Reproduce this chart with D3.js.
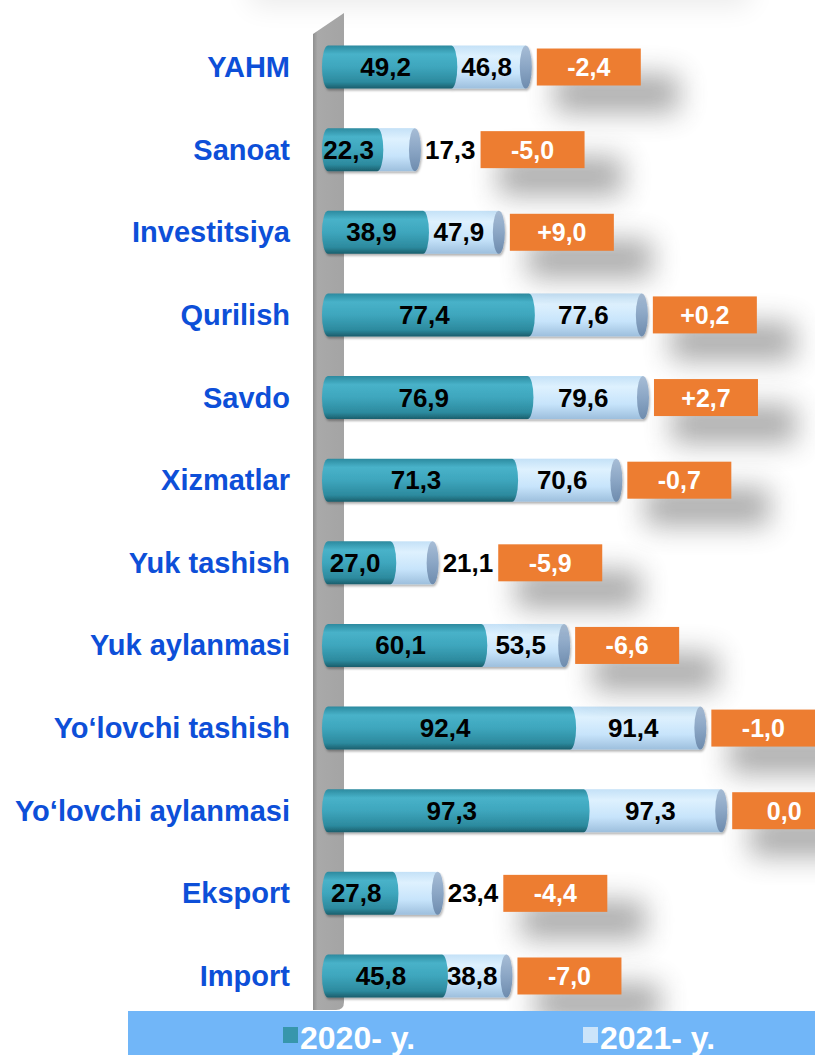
<!DOCTYPE html>
<html lang="uz">
  <head>
    <meta charset="UTF-8" />
    <title>2020-2021 ko'rsatkichlar</title>
    <script src="https://cdnjs.cloudflare.com/ajax/libs/d3/7.8.5/d3.min.js"></script>
    <style>
      html, body { margin: 0; padding: 0; background: #fff; }
      svg { display: block; }
      text { font-family: "Liberation Sans", Arial, sans-serif; font-weight: bold; }
    </style>
  </head>
  <body>
    <svg id="chart" width="815" height="1055"></svg>

    <script>
      // data
      const categories = [
        "YAHM", "Sanoat", "Investitsiya", "Qurilish", "Savdo", "Xizmatlar",
        "Yuk tashish", "Yuk aylanmasi", "Yo\u2018lovchi tashish",
        "Yo\u2018lovchi aylanmasi", "Eksport", "Import"
      ];
      const values2020 = [49.2, 22.3, 38.9, 77.4, 76.9, 71.3, 27.0, 60.1, 92.4, 97.3, 27.8, 45.8];
      const values2021 = [46.8, 17.3, 47.9, 77.6, 79.6, 70.6, 21.1, 53.5, 91.4, 97.3, 23.4, 38.8];
      const legendLabels = ["2020- y.", "2021- y."];

      const width = 815, height = 1055;
      const svg = d3.select("#chart");
      const defs = svg.append("defs");

      const fmt = v => d3.format(".1f")(Math.abs(v)).replace(".", ",");
      const fmtDiff = v => {
        const r = Math.round(v * 10) / 10;
        return (r > 0 ? "+" : r < 0 ? "-" : "") + fmt(r);
      };

      // scales
      const y = d3.scaleBand()
        .domain(categories)
        .range([25.7, 1017.3])
        .paddingInner(0.48)
        .paddingOuter(0.24);
      // 2020 segment (front), from the wall
      const x20 = d3.scaleLinear().domain([0, 100]).range([322, 597]);
      // 2021 segment length, stacked after 2020
      const x21 = d3.scaleLinear().domain([0, 100]).range([16, 141]);

      // gradients
      function vGrad(id, stops) {
        const g = defs.append("linearGradient").attr("id", id)
          .attr("x1", 0).attr("y1", 0).attr("x2", 0).attr("y2", 1);
        stops.forEach(s => g.append("stop").attr("offset", s[0]).attr("stop-color", s[1]));
      }
      vGrad("tealGrad", [[0, "#2c8a9f"], [0.2, "#48b2c9"], [0.5, "#3ea6bd"], [0.85, "#2c8a9e"], [1, "#1b5e6c"]]);
      vGrad("lightGrad", [[0, "#c4e1f7"], [0.25, "#def1fe"], [0.65, "#c7e4fb"], [1, "#9dbfdd"]]);
      vGrad("capGrad", [[0, "#a7bdd6"], [0.5, "#8ba6c5"], [1, "#6e8cae"]]);
      const wg = defs.append("linearGradient").attr("id", "wallGrad");
      wg.append("stop").attr("offset", 0).attr("stop-color", "#8f8f8f");
      wg.append("stop").attr("offset", 0.15).attr("stop-color", "#a9a9a9");
      wg.append("stop").attr("offset", 1).attr("stop-color", "#a4a4a4");

      const blur = defs.append("filter").attr("id", "blurShadow")
        .attr("x", "-60%").attr("y", "-100%").attr("width", "220%").attr("height", "300%");
      blur.append("feGaussianBlur").attr("stdDeviation", 14);

      const barShadow = defs.append("filter").attr("id", "barShadow")
        .attr("x", "-5%").attr("y", "-20%").attr("width", "110%").attr("height", "150%");
      barShadow.append("feDropShadow").attr("dx", 1).attr("dy", 2)
        .attr("stdDeviation", 1.2).attr("flood-color", "#000").attr("flood-opacity", 0.3);

      // faint shadow at the very top
      svg.append("rect")
        .attr("x", 250).attr("y", -30).attr("width", 500).attr("height", 36)
        .attr("fill", "#000").attr("opacity", 0.08)
        .attr("filter", "url(#blurShadow)");

      // grey wall on the left
      svg.append("path")
        .attr("d", "M313,34 L344,13 L344,1002 Q344,1010 336,1010 L313,1010 Z")
        .attr("fill", "url(#wallGrad)");

      const rows = categories.map((c, i) => ({
        cat: c, v20: values2020[i], v21: values2021[i], diff: values2021[i] - values2020[i]
      }));

      // category labels
      svg.append("g").selectAll("text")
        .data(rows).join("text")
        .attr("x", 290)
        .attr("y", d => y(d.cat) + y.bandwidth() / 2 + 10)
        .attr("text-anchor", "end")
        .attr("font-size", 29)
        .attr("fill", "#0d4fd8")
        .text(d => d.cat);

      const rx = 6;
      const h = y.bandwidth();
      const bars = svg.append("g").selectAll("g")
        .data(rows).join("g")
        .attr("filter", "url(#barShadow)");

      // 2021 segment (behind), then its end cap
      bars.append("rect")
        .attr("x", d => x20(d.v20) - rx)
        .attr("y", d => y(d.cat))
        .attr("width", d => x21(d.v21))
        .attr("height", h)
        .attr("fill", "url(#lightGrad)");
      bars.append("ellipse")
        .attr("cx", d => x20(d.v20) + x21(d.v21) - rx)
        .attr("cy", d => y(d.cat) + h / 2)
        .attr("rx", rx).attr("ry", h / 2)
        .attr("fill", "url(#capGrad)");

      // 2020 segment in front
      bars.append("path")
        .attr("d", d => {
          const t = y(d.cat), b = t + h, x0 = x20(0), x1 = x20(d.v20);
          return `M${x0 + rx},${t} H${x1 - rx} A${rx},${h / 2} 0 0 1 ${x1 - rx},${b} ` +
                 `H${x0 + rx} A${rx},${h / 2} 0 0 1 ${x0 + rx},${t} Z`;
        })
        .attr("fill", "url(#tealGrad)");

      // value labels
      const labels = svg.append("g");
      rows.forEach(d => {
        const cy = y(d.cat) + h / 2 + 9;
        const t0 = x20(0), t1 = x20(d.v20), seg = x21(d.v21);
        labels.append("text")
          .attr("x", (t0 + t1) / 2 - 4).attr("y", cy)
          .attr("text-anchor", "middle").attr("font-size", 26).attr("fill", "#000")
          .text(fmt(d.v20));
        const inside = seg >= 55;
        const lab = labels.append("text")
          .attr("y", cy).attr("font-size", 26).attr("fill", "#000")
          .text(fmt(d.v21));
        if (inside) {
          lab.attr("x", t1 + seg / 2 - 8).attr("text-anchor", "middle");
          d.rightEdge = t1 + seg;
        } else {
          lab.attr("x", t1 + seg + 4).attr("text-anchor", "start");
          d.rightEdge = t1 + seg + 4 + lab.node().getComputedTextLength();
        }
      });

      // difference boxes with soft shadows
      const boxW = 104, boxH = 37;
      const boxes = svg.append("g").selectAll("g")
        .data(rows).join("g")
        .attr("transform", d => `translate(${d.rightEdge + 5},${y(d.cat) + h / 2 - boxH / 2})`);
      boxes.append("rect")
        .attr("x", 18).attr("y", 26).attr("width", 124).attr("height", 38)
        .attr("fill", "#444").attr("opacity", 0.45)
        .attr("filter", "url(#blurShadow)");
      boxes.append("rect")
        .attr("width", boxW).attr("height", boxH)
        .attr("fill", "#ed7d31");
      boxes.append("text")
        .attr("x", boxW / 2).attr("y", boxH / 2 + 9)
        .attr("text-anchor", "middle")
        .attr("font-family", "Lato, 'Open Sans', sans-serif")
        .attr("font-size", 25).attr("fill", "#fff")
        .text(d => fmtDiff(d.diff));

      // legend band
      const legend = svg.append("g");
      legend.append("rect")
        .attr("x", 128).attr("y", 1011).attr("width", width - 128).attr("height", 44)
        .attr("fill", "#71b6f8");
      const legendColors = ["#3796ac", "#cbe4fa"];
      const legendX = [283, 583];
      legendLabels.forEach((l, i) => {
        legend.append("rect")
          .attr("x", legendX[i]).attr("y", 1027).attr("width", 15).attr("height", 16)
          .attr("fill", legendColors[i]);
        legend.append("text")
          .attr("x", legendX[i] + 17).attr("y", 1049)
          .attr("font-size", 32).attr("fill", "#fff")
          .text(l);
      });
    </script>
  </body>
</html>
